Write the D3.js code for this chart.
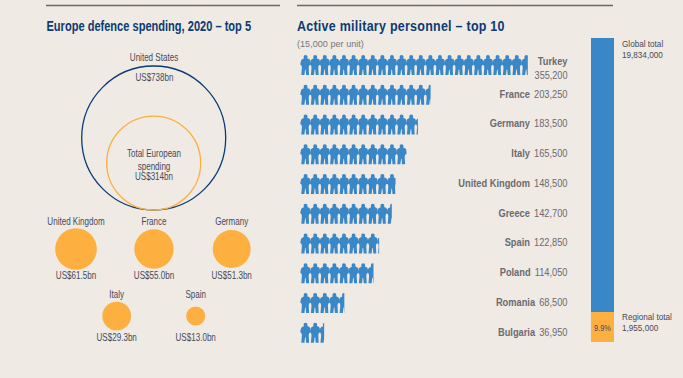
<!DOCTYPE html>
<html>
<head>
<meta charset="utf-8">
<script src="https://cdnjs.cloudflare.com/ajax/libs/d3/7.8.5/d3.min.js"></script>
<style>
  html, body { margin: 0; padding: 0; background: #efeae4; }
  svg { display: block; }
  text { font-family: "Liberation Sans", sans-serif; }
</style>
</head>
<body>
<svg id="chart" width="683" height="378"></svg>
<script>
// left panel: spending
var spendNames = ['United Kingdom', 'France', 'Germany', 'Italy', 'Spain'];
var spendValues = [61.5, 55.0, 51.3, 29.3, 13.0];
var usValue = 738;
var europeValue = 314;

// right panel: personnel
var countries = ['Turkey', 'France', 'Germany', 'Italy', 'United Kingdom', 'Greece', 'Spain', 'Poland', 'Romania', 'Bulgaria'];
var personnel = [355200, 203250, 183500, 165500, 148500, 142700, 122850, 114050, 68500, 36950];
var perUnit = 15000;
var globalTotal = 19834000;
var regionalTotal = 1955000;

var bg = '#efeae4', navy = '#0b3a75', orange = '#fdb040', blue = '#3a87c8', textCol = '#454a58', grey = '#6a6a6f';
var svg = d3.select('#chart');
svg.append('rect').attr('width', 683).attr('height', 378).attr('fill', bg);

// no condensed face installed, so squeeze the text sideways around its x
function squeeze(t, k) {
    var x = +t.attr('x');
    return t.attr('transform', 'translate(' + x + ',0) scale(' + k + ',1) translate(' + (-x) + ',0)');
}

// rules + titles
[[46, 280], [297, 613]].forEach(function (d) {
    svg.append('line').attr('x1', d[0]).attr('x2', d[1]).attr('y1', 5.5).attr('y2', 5.5)
        .attr('stroke', '#6b6764').attr('stroke-width', 1.3);
});
function title(x, t, k, ls) {
    squeeze(svg.append('text').attr('x', x).attr('y', 31).attr('fill', navy)
        .attr('font-size', 14).attr('font-weight', 'bold').attr('letter-spacing', ls).text(t), k);
}
title(46.5, 'Europe defence spending, 2020 \u2013 top 5', 0.79, 0);
title(297, 'Active military personnel \u2013 top 10', 0.89, 0.3);
squeeze(svg.append('text').attr('x', 297).attr('y', 47).attr('fill', '#77777b').attr('font-size', 9.6).text('(15,000 per unit)'), 0.95);

// ---- circles, area scaled ----
var rScale = d3.scaleSqrt().domain([0, usValue]).range([0, 72]);

function label(x, y, t) {
    squeeze(svg.append('text').attr('x', x).attr('y', y).attr('text-anchor', 'middle')
        .attr('fill', textCol).attr('font-size', 10.2).text(t), 0.79);
}

var baseY = 210;
svg.append('circle').attr('cx', 153.7).attr('cy', baseY - rScale(usValue)).attr('r', rScale(usValue))
    .attr('fill', 'none').attr('stroke', navy).attr('stroke-width', 1.3);
svg.append('circle').attr('cx', 153.7).attr('cy', baseY - rScale(europeValue)).attr('r', rScale(europeValue))
    .attr('fill', 'none').attr('stroke', orange).attr('stroke-width', 1.3);
label(154, 61, 'United States');
label(154.5, 81, 'US$' + usValue + 'bn');
label(154, 157.5, 'Total European');
label(154, 170, 'spending');
label(154, 180.5, 'US$' + europeValue + 'bn');

var spendX = [76, 154, 231.7, 116.7, 195.7];
var spendY = [249, 249, 249, 316, 316];
spendNames.forEach(function (n, i) {
    svg.append('circle').attr('cx', spendX[i]).attr('cy', spendY[i]).attr('r', rScale(spendValues[i])).attr('fill', orange);
    label(spendX[i], spendY[i] + (i < 3 ? -24 : -18), n);
    label(spendX[i], spendY[i] + (i < 3 ? 30 : 25), 'US$' + spendValues[i].toFixed(1) + 'bn');
});

// ---- soldiers ----
var x = d3.scaleLinear().domain([0, 1]).range([300.5, 310.1]);
var rowY = d3.scalePoint().domain(countries).range([55, 322.7]);

// one figure in a 9.6 x 20 box, arms just touching the next one
var soldier = 'M5 0 C6.3 0 7.1 .9 7 2.2 L6.8 3.4 L8.6 4 C9.5 4.4 9.7 5.4 9.8 6.6 L10.1 9.4 L8.7 10.6 L8.2 12.4 L8.6 20 L5.6 20 L5.1 14.6 L4.6 14.6 L3.9 20 L.8 20 L1.4 12.6 L1 10.6 L-.3 9.4 L.5 5.8 C.8 4.7 1.8 4.2 3.3 3.6 L3.2 2.2 C3.1 .9 3.8 0 5 0 Z';
var defs = svg.append('defs');
defs.append('path').attr('id', 'soldier').attr('d', soldier);

var fmt = d3.format(',');
countries.forEach(function (c, i) {
    var units = personnel[i] / perUnit;
    var clipId = 'clip' + i;
    defs.append('clipPath').attr('id', clipId).append('rect')
        .attr('x', x(0) - 1).attr('y', rowY(c) - 1).attr('width', x(units) - x(0) + 1).attr('height', 22);
    svg.append('g').attr('clip-path', 'url(#' + clipId + ')')
        .selectAll('use').data(d3.range(Math.ceil(units))).enter().append('use')
        .attr('href', '#soldier').attr('fill', blue)
        .attr('x', function (d) { return x(d); })
        .attr('y', rowY(c));

    var t = svg.append('text').attr('x', 567.5).attr('text-anchor', 'end').attr('font-size', 11.4).attr('fill', grey);
    if (i === 0) {
        // Turkey wraps on two lines
        t.attr('y', 65).attr('font-weight', 'bold').text(c);
        squeeze(svg.append('text').attr('x', 567.5).attr('y', 79).attr('text-anchor', 'end')
            .attr('font-size', 11.4).attr('fill', grey).text(fmt(personnel[i])), 0.8);
    } else {
        t.attr('y', rowY(c) + 13);
        t.append('tspan').attr('font-weight', 'bold').text(c);
        t.append('tspan').attr('dx', 5).text(fmt(personnel[i]));
    }
    squeeze(t, 0.815);
});

// ---- stacked total bar ----
var barY = d3.scaleLinear().domain([0, globalTotal]).range([342, 38]);
svg.append('rect').attr('x', 591).attr('width', 23).attr('y', barY(globalTotal))
    .attr('height', barY(regionalTotal) - barY(globalTotal)).attr('fill', blue);
svg.append('rect').attr('x', 591).attr('width', 23).attr('y', barY(regionalTotal))
    .attr('height', barY(0) - barY(regionalTotal)).attr('fill', orange);
squeeze(svg.append('text').attr('x', 602.5).attr('y', 331).attr('text-anchor', 'middle').attr('font-size', 9).attr('fill', textCol)
    .text(d3.format('.1%')(regionalTotal / globalTotal)), 0.82);

function side(y, t) {
    squeeze(svg.append('text').attr('x', 622).attr('y', y).attr('fill', textCol).attr('font-size', 9.6).text(t), 0.85);
}
side(47, 'Global total');
side(58, fmt(globalTotal));
side(320, 'Regional total');
side(331, fmt(regionalTotal));
</script>
</body>
</html>
